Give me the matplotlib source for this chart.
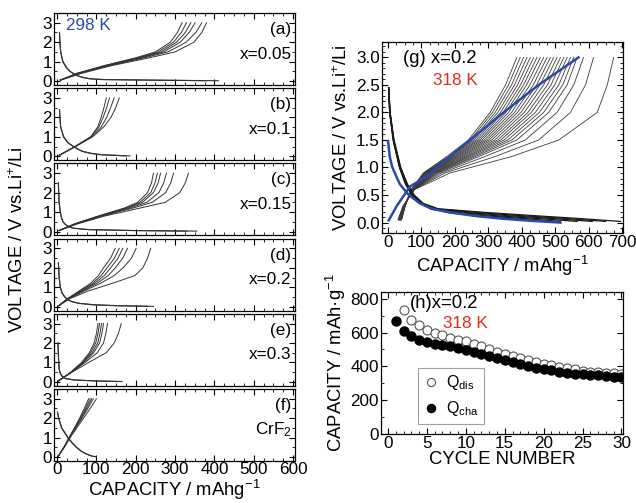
import matplotlib
matplotlib.use('Agg')
import matplotlib.pyplot as plt
from matplotlib.ticker import MultipleLocator

plt.rcParams['font.family'] = ['Liberation Sans', 'DejaVu Sans']
plt.rcParams['mathtext.fontset'] = 'custom'
plt.rcParams['mathtext.rm'] = 'Liberation Sans'
plt.rcParams['mathtext.it'] = 'Liberation Sans'
plt.rcParams['mathtext.default'] = 'regular'

# ---- left stack, 298 K: capacities (mAh/g) read at fixed voltages ----
V_CH_A = [0.05, 0.4, 0.8, 1.2, 1.5, 2.0, 2.5, 3.0]
CH_A = [[8, 50, 120, 200, 250, 288, 306, 318],
        [8, 52, 123, 205, 257, 296, 316, 329],
        [8, 54, 126, 210, 264, 304, 326, 340],
        [8, 56, 129, 215, 271, 313, 336, 351],
        [8, 58, 133, 222, 282, 328, 353, 368],
        [9, 62, 140, 235, 300, 348, 368, 380]]
V_DIS_A = [2.5, 2.0, 1.5, 1.0, 0.7, 0.5, 0.35, 0.25, 0.18, 0.12, 0.08, 0.05, 0.02]
DIS_A = [[6, 7, 9, 15, 24, 33, 45, 56, 68, 85, 120, 250, 410],
         [6, 7, 9, 14, 23, 32, 44, 55, 66, 82, 112, 230, 380]]

V_CH_B = [0.05, 0.5, 1.0, 1.5, 2.0, 2.5, 3.0]
CH_B = [[5, 45, 85, 103, 112, 119, 125],
        [5, 45, 86, 106, 117, 126, 133],
        [5, 46, 88, 112, 126, 136, 145],
        [6, 47, 90, 118, 137, 149, 158]]
V_DIS_B = [2.4, 2.0, 1.5, 1.0, 0.7, 0.5, 0.35, 0.25, 0.15, 0.08, 0.02]
DIS_B = [[6, 7, 9, 17, 28, 42, 55, 66, 88, 115, 185],
         [6, 7, 9, 16, 27, 41, 54, 64, 85, 110, 175]]

V_CH_C = [0.05, 0.4, 0.8, 1.2, 1.5, 2.0, 2.5, 3.0]
CH_C = [[5, 45, 105, 170, 205, 230, 240, 245],
        [5, 46, 107, 174, 211, 238, 249, 255],
        [5, 47, 109, 178, 217, 245, 257, 263],
        [5, 48, 112, 184, 228, 259, 271, 278],
        [5, 50, 115, 192, 242, 276, 289, 296],
        [5, 53, 122, 210, 275, 312, 326, 334]]
V_DIS_C = [2.5, 2.0, 1.5, 1.0, 0.7, 0.5, 0.35, 0.25, 0.17, 0.1, 0.05, 0.02]
DIS_C = [[3, 4, 5, 8, 11, 15, 22, 30, 42, 80, 200, 355],
         [3, 4, 5, 8, 11, 15, 21, 29, 40, 75, 185, 330]]

V_CH_D = [0.05, 0.4, 0.8, 1.2, 1.6, 2.0, 2.5, 3.0]
CH_D = [[4, 25, 55, 85, 105, 118, 136, 148],
        [4, 26, 58, 90, 112, 127, 146, 158],
        [4, 27, 61, 95, 120, 136, 155, 167],
        [4, 28, 64, 101, 130, 148, 167, 179],
        [4, 29, 68, 110, 145, 168, 189, 201],
        [4, 31, 78, 140, 198, 218, 230, 238]]
V_DIS_D = [2.25, 2.0, 1.5, 1.0, 0.7, 0.5, 0.35, 0.25, 0.17, 0.1, 0.05, 0.02]
DIS_D = [[3, 4, 5, 8, 13, 20, 28, 40, 58, 95, 160, 245],
         [3, 4, 5, 8, 12, 19, 27, 38, 55, 90, 150, 230]]

V_CH_E = [0.05, 0.5, 1.0, 1.5, 2.0, 2.5, 3.0]
CH_E = [[3, 35, 62, 82, 94, 100, 104],
        [3, 35, 64, 85, 98, 104, 108],
        [3, 36, 66, 89, 103, 109, 113],
        [3, 36, 68, 93, 108, 114, 118],
        [3, 37, 71, 102, 118, 124, 128],
        [3, 38, 80, 125, 145, 156, 163]]
V_DIS_E = [2.0, 1.5, 1.0, 0.7, 0.5, 0.35, 0.25, 0.17, 0.1, 0.05, 0.02]
DIS_E = [[2, 3, 4, 5, 7, 11, 15, 22, 45, 100, 165],
         [2, 3, 4, 5, 7, 10, 14, 21, 42, 95, 155]]

V_CH_F = [0.05, 0.5, 1.0, 1.5, 2.0, 2.5, 3.0]
CH_F = [[3, 17, 30, 44, 57, 69, 80],
        [3, 17, 31, 45, 59, 72, 84],
        [3, 17, 31, 46, 61, 75, 88],
        [3, 18, 32, 47, 63, 78, 92],
        [3, 18, 33, 50, 67, 84, 100]]
V_DIS_F = [2.3, 2.0, 1.5, 1.0, 0.7, 0.5, 0.3, 0.15, 0.05, 0.02]
DIS_F = [[1, 4, 12, 28, 40, 50, 62, 76, 90, 97],
         [1, 4, 11, 27, 39, 49, 61, 75, 88, 100]]

# ---- panel (g), x=0.2 at 318 K ----
V_CH_G = [0.05, 0.3, 0.6, 0.9, 1.2, 1.5, 2.0, 2.5, 3.0]
CH_G = [[30, 45, 80, 185, 370, 510, 625, 655, 674],
        [30, 45, 78, 170, 320, 450, 545, 590, 614],
        [32, 46, 77, 160, 290, 410, 505, 555, 584],
        [32, 46, 76, 152, 272, 385, 480, 535, 565],
        [33, 47, 75, 147, 262, 370, 465, 522, 555],
        [33, 47, 75, 143, 254, 358, 452, 510, 545],
        [34, 47, 74, 139, 246, 347, 440, 498, 535],
        [34, 48, 74, 136, 240, 337, 428, 487, 525],
        [35, 48, 73, 133, 234, 328, 418, 476, 515],
        [35, 48, 73, 130, 228, 319, 407, 465, 505],
        [36, 49, 72, 127, 222, 310, 397, 454, 495],
        [36, 49, 72, 124, 217, 302, 387, 444, 485],
        [37, 49, 72, 122, 212, 295, 378, 434, 475],
        [37, 50, 71, 120, 207, 288, 369, 424, 465],
        [38, 50, 71, 118, 203, 281, 360, 414, 455],
        [38, 50, 71, 116, 199, 275, 352, 405, 445],
        [39, 50, 71, 114, 195, 269, 344, 396, 435],
        [39, 50, 70, 112, 191, 263, 336, 387, 425],
        [40, 51, 70, 110, 187, 257, 328, 378, 415],
        [40, 51, 70, 109, 184, 252, 320, 369, 405],
        [40, 51, 70, 107, 180, 246, 312, 360, 395],
        [40, 51, 70, 105, 176, 240, 305, 351, 385]]
V_DIS_G = [2.45, 2.0, 1.5, 1.0, 0.7, 0.5, 0.35, 0.25, 0.18, 0.12, 0.07, 0.02]
DIS_G = [[2, 6, 18, 38, 58, 78, 105, 150, 300, 450, 580, 695],
         [2, 6, 17, 37, 56, 76, 102, 142, 270, 410, 540, 650],
         [2, 6, 17, 36, 55, 74, 100, 138, 240, 370, 500, 610],
         [2, 5, 16, 35, 54, 73, 98, 134, 215, 330, 455, 565],
         [2, 5, 16, 35, 53, 72, 96, 130, 195, 295, 410, 515],
         [2, 5, 15, 34, 52, 71, 95, 127, 180, 265, 370, 470]]
V_CH_BLUE = [0.04, 0.3, 0.65, 0.9, 1.2, 1.5, 2.0, 2.5, 3.0]
CH_BLUE = [2, 26, 65, 130, 185, 245, 345, 450, 569]
V_DIS_BLUE = [1.48, 1.2, 1.0, 0.7, 0.5, 0.35, 0.25, 0.18, 0.12, 0.07, 0.03, 0.0]
DIS_BLUE = [0, 5, 13, 35, 62, 95, 130, 190, 260, 340, 430, 515]

# ---- panel (h), cycling ----
CYC_DIS = list(range(2, 31))
Q_DIS = [731, 676, 643, 618, 600, 584, 570, 559, 549, 535, 520, 502, 488, 474,
         461, 449, 437, 424, 416, 406, 396, 390, 382, 373, 369, 365, 361, 359, 355]
CYC_CHA = list(range(1, 31))
Q_CHA = [667, 608, 578, 559, 545, 535, 525, 518, 508, 496, 484, 473, 461, 447, 437,
         425, 412, 402, 392, 384, 376, 369, 363, 355, 353, 349, 347, 343, 339, 337]

LEFT = [('(a)', 'x=0.05', V_CH_A, CH_A, V_DIS_A, DIS_A),
        ('(b)', 'x=0.1', V_CH_B, CH_B, V_DIS_B, DIS_B),
        ('(c)', 'x=0.15', V_CH_C, CH_C, V_DIS_C, DIS_C),
        ('(d)', 'x=0.2', V_CH_D, CH_D, V_DIS_D, DIS_D),
        ('(e)', 'x=0.3', V_CH_E, CH_E, V_DIS_E, DIS_E),
        ('(f)', 'CrF$_2$', V_CH_F, CH_F, V_DIS_F, DIS_F)]

BLUE = '#2a4aa6'
RED = '#e8261c'
W, H = 636, 503
TICK = 12.3
LAB = 13.3


def px_axes(fig, left, top, right, bottom):
    return fig.add_axes([left / W, 1 - bottom / H, (right - left) / W, (bottom - top) / H])


def style(ax, pad=1.5):
    ax.tick_params(which='both', direction='in', top=True, right=True, labelsize=TICK, pad=pad)
    ax.tick_params(which='major', length=4, width=0.8)
    ax.tick_params(which='minor', length=2, width=0.6)
    for s in ax.spines.values():
        s.set_linewidth(0.9)


fig = plt.figure(figsize=(W / 100, H / 100), dpi=100)

# left stack
top0, pitch, hgt = 13, 75.2, 72
for i, (tag, comp, vch, chs, vdis, dis) in enumerate(LEFT):
    t = top0 + i * pitch
    ax = px_axes(fig, 54, t, 295, t + hgt)
    for c in chs:
        ax.plot(c, vch, color='#333333', lw=0.7)
    for c in dis:
        ax.plot(c, vdis, color='#333333', lw=0.8)
    ax.set_xlim(-8, 605)
    ax.set_ylim(-0.2, 3.5)
    ax.xaxis.set_major_locator(MultipleLocator(100))
    ax.xaxis.set_minor_locator(MultipleLocator(25))
    ax.yaxis.set_major_locator(MultipleLocator(1))
    ax.yaxis.set_minor_locator(MultipleLocator(0.5))
    style(ax, pad=0.8)
    ax.tick_params(axis='y', pad=1.5)
    if i < len(LEFT) - 1:
        ax.tick_params(labelbottom=False)
    ax.text(0.985, 0.77, tag, transform=ax.transAxes, ha='right', va='center', fontsize=TICK)
    ax.text(0.985, 0.43, comp, transform=ax.transAxes, ha='right', va='center', fontsize=TICK)
    if i == 0:
        ax.text(0.05, 0.82, '298 K', transform=ax.transAxes, ha='left', va='center',
                fontsize=TICK, color=BLUE)

fig.text(174 / W, 1 - 502 / H, 'CAPACITY / mAhg$^{-1}$', ha='center', va='bottom', fontsize=LAB)
fig.text(18 / W, 1 - 240 / H, 'VOLTAGE / V vs.Li$^{+}$/Li', rotation=90,
         ha='center', va='center', fontsize=LAB)

# panel (g)
axg = px_axes(fig, 382, 42, 623, 233)
for c in CH_G:
    axg.plot(c, V_CH_G, color='#3a3a3a', lw=0.6)
for c in DIS_G:
    axg.plot(c, V_DIS_G, color='#1a1a1a', lw=0.9)
axg.plot(CH_BLUE, V_CH_BLUE, color=BLUE, lw=1.8)
axg.plot(DIS_BLUE, V_DIS_BLUE, color=BLUE, lw=1.8)
axg.set_xlim(-18, 702)
axg.set_ylim(-0.19, 3.28)
axg.xaxis.set_major_locator(MultipleLocator(100))
axg.xaxis.set_minor_locator(MultipleLocator(25))
axg.yaxis.set_major_locator(MultipleLocator(0.5))
axg.yaxis.set_minor_locator(MultipleLocator(0.1))
axg.yaxis.set_major_formatter(plt.FormatStrFormatter('%.1f'))
style(axg)
axg.set_xlabel('CAPACITY / mAhg$^{-1}$', fontsize=LAB, labelpad=3)
axg.set_ylabel('VOLTAGE / V vs.Li$^{+}$/Li', fontsize=LAB, labelpad=4)
axg.text(0.087, 0.916, '(g) x=0.2', transform=axg.transAxes, ha='left', va='center', fontsize=LAB)
axg.text(0.21, 0.80, '318 K', transform=axg.transAxes, ha='left', va='center', fontsize=TICK, color=RED)

# panel (h)
axh = px_axes(fig, 381, 292, 623, 434)
axh.plot(CYC_DIS, Q_DIS, 'o', ms=6.5, mfc='white', mec='#555555', mew=0.8, label='Q$_{dis}$')
axh.plot(CYC_CHA, Q_CHA, 'o', ms=6.5, mfc='black', mec='black', label='Q$_{cha}$')
axh.set_xlim(-0.9, 30.2)
axh.set_ylim(0, 840)
axh.xaxis.set_major_locator(MultipleLocator(5))
axh.xaxis.set_minor_locator(MultipleLocator(1))
axh.yaxis.set_major_locator(MultipleLocator(200))
axh.yaxis.set_minor_locator(MultipleLocator(100))
style(axh)
axh.set_xlabel('CYCLE NUMBER', fontsize=LAB, labelpad=0)
axh.set_ylabel('CAPACITY / mAh\u00b7g$^{-1}$', fontsize=LAB, labelpad=2)
axh.text(0.12, 0.92, '(h)x=0.2', transform=axh.transAxes, ha='left', va='center', fontsize=LAB)
axh.text(0.256, 0.78, '318 K', transform=axh.transAxes, ha='left', va='center', fontsize=TICK, color=RED)
leg = axh.legend(loc='lower left', bbox_to_anchor=(0.153, 0.07), fontsize=11.5, frameon=True,
                 fancybox=False, edgecolor='#888888', handletextpad=0.5, labelspacing=0.45,
                 borderpad=0.35, handlelength=0.9, borderaxespad=0, markerscale=0.9)
leg.get_frame().set_linewidth(0.8)

fig.savefig('out.png', dpi=100)
